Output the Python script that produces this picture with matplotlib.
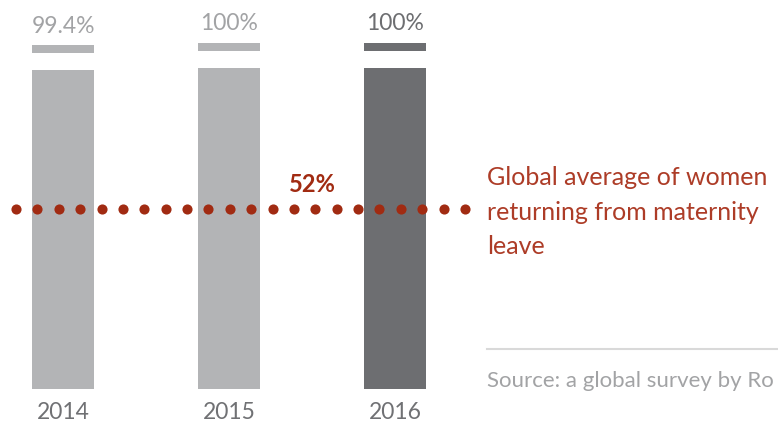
import numpy as np
import matplotlib
matplotlib.use('Agg')
import matplotlib.pyplot as plt
from matplotlib.lines import Line2D

plt.rcParams['font.family'] = ['Lato', 'DejaVu Sans']

# Datos
years = ['2014', '2015', '2016']
share_returning = [99.4, 100, 100]
value_labels = ['99.4%', '100%', '100%']
global_avg = 52
avg_label = 'Global average of women\nreturning from maternity\nleave'
source_text = 'Source: a global survey by Ro'

bar_colors = ['#b3b4b6', '#b3b4b6', '#6d6e71']
label_colors = ['#a2a3a5', '#a2a3a5', '#6d6e71']
red = '#a12b12'

W, H = 778, 428
fig = plt.figure(figsize=(W / 100, H / 100), dpi=100)
ax = fig.add_axes([0, 0, 1, 1])
ax.axis('off')

# escala: 166 px por categoria, 3.46 px por punto porcentual
ax.set_xlim(-63 / 166, -63 / 166 + W / 166)
ax.set_ylim(-(H - 389) / 3.46, 100 + 43 / 3.46)

x = np.arange(len(years))
bw = 62 / 166
cap, gap = 2.3, 4.9  # tapa superior y hueco blanco (estilo)

for i, v in enumerate(share_returning):
    ax.bar(x[i], v - cap - gap, width=bw, color=bar_colors[i], zorder=1)
    ax.bar(x[i], cap, bottom=v - cap, width=bw, color=bar_colors[i], zorder=1)
    ax.annotate(value_labels[i], (x[i], v), xytext=(0, 9), textcoords='offset points',
                ha='center', va='baseline', fontsize=16.5,
                color=label_colors[i])
    ax.annotate(years[i], (x[i], 0), xytext=(0, -17), textcoords='offset points',
                ha='center', va='center', fontsize=16.5, color='#707174')

# linea punteada del promedio global
dots_x = np.linspace(-47 / 166, 402 / 166, 22)
ax.plot(dots_x, [global_avg] * len(dots_x), 'o', ms=7.3, color=red,
        markeredgewidth=0, zorder=3)

ax.annotate(f'{global_avg}%', (249 / 166, global_avg), xytext=(0, 18),
            textcoords='offset points', ha='center', va='center',
            fontsize=17, fontweight='bold', color=red)
# va='baseline' en texto multilinea alinea la ultima linea
ax.annotate(avg_label, (424 / 166, global_avg), xytext=(0, -32),
            textcoords='offset points', ha='left', va='baseline',
            fontsize=18, color='#ad3c27', linespacing=1.58)

# fuente
fig.add_artist(Line2D([487 / W, 1], [1 - 349 / H] * 2, color='#d9d9d9', lw=1.5))
fig.text(487 / W, 1 - 381 / H, source_text, ha='left', va='center',
         fontsize=16, color='#a2a3a5')

fig.savefig('out.png', dpi=100)
